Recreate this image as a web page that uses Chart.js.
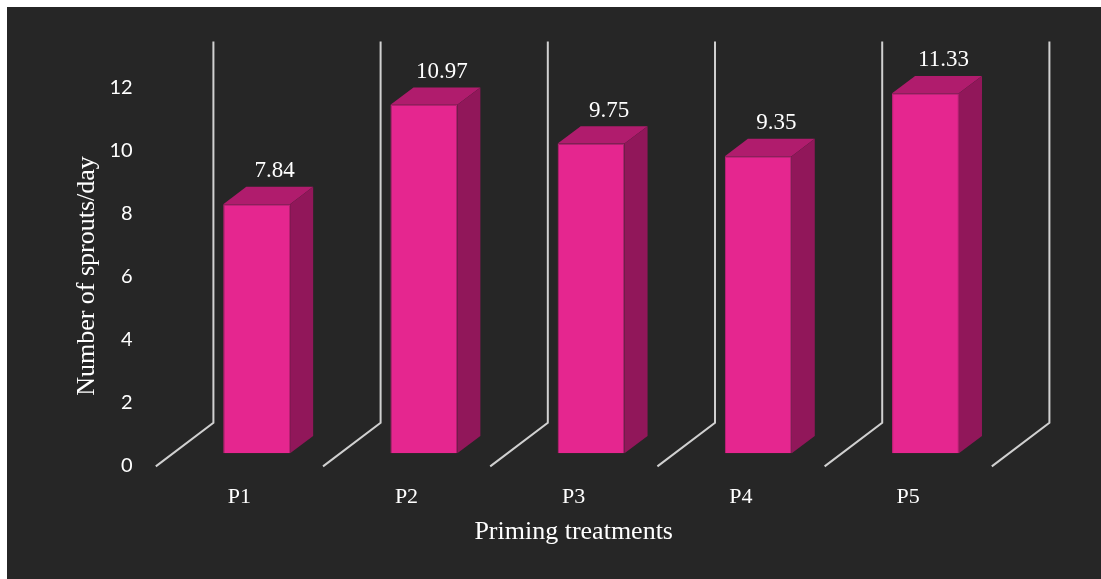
<!DOCTYPE html>
<html>
<head>
<meta charset="utf-8">
<title>Number of sprouts per day</title>
<script src="https://cdn.jsdelivr.net/npm/chart.js@4.4.1/dist/chart.umd.min.js"></script>
<style>
	html, body { margin: 0; padding: 0; background: #ffffff; }
	#frame { position: absolute; left: 7px; top: 7px; width: 1094px; height: 572px; background: #262626; }
</style>
</head>
<body>
<div id="frame"><canvas id="myChart" width="1094" height="572"></canvas></div>
<script>
"use strict";

const treatments = ["P1", "P2", "P3", "P4", "P5"];
const sproutsPerDay = [7.84, 10.97, 9.75, 9.35, 11.33];
const yTickValues = [0, 2, 4, 6, 8, 10, 12];

// oblique floor depth, and the slice of it the bars occupy
const DEPTH_X = 57.6;
const DEPTH_Y = 43.5;
const BAR_FRONT = 0.3;
const BAR_BACK = 0.7;

const FACE_FRONT = "#E5268F";
const FACE_TOP = "#B01C6D";
const FACE_SIDE = "#91175A";
const WALL_COLOR = "#D0D0D0";
const SERIF = "'Liberation Serif', 'Times New Roman', serif";

// back walls + floor edges behind the bars
const wallPlugin = {
	id: "walls",
	beforeDatasetsDraw(chart) {
		const xs = chart.scales.xb;
		const ys = chart.scales.yb;
		const ctx = chart.ctx;
		const y0 = ys.getPixelForValue(0);
		const yTop = ys.getPixelForValue(yTickValues[yTickValues.length - 1]);
		const backDx = (1 - BAR_FRONT) * DEPTH_X;
		const backDy = (1 - BAR_FRONT) * DEPTH_Y;

		ctx.save();
		ctx.strokeStyle = WALL_COLOR;
		ctx.lineWidth = 2;
		for (let i = 0; i <= treatments.length; i++) {
			const x = xs.getPixelForValue(i - 0.5);
			ctx.beginPath();
			ctx.moveTo(x - BAR_FRONT * DEPTH_X, y0 + BAR_FRONT * DEPTH_Y);
			ctx.lineTo(x + backDx, y0 - backDy);
			ctx.lineTo(x + backDx, yTop - backDy);
			ctx.stroke();
		}
		ctx.restore();
	},
};

// top and side faces of each box, then the value above it
const boxPlugin = {
	id: "boxes",
	afterDatasetsDraw(chart) {
		const ctx = chart.ctx;
		const meta = chart.getDatasetMeta(0);
		const dx = (BAR_BACK - BAR_FRONT) * DEPTH_X;
		const dy = (BAR_BACK - BAR_FRONT) * DEPTH_Y;

		ctx.save();
		meta.data.forEach(function (bar, i) {
			const { x, y, base, width } = bar.getProps(["x", "y", "base", "width"], true);
			const left = x - width / 2;
			const right = x + width / 2;

			ctx.fillStyle = FACE_TOP;
			ctx.beginPath();
			ctx.moveTo(left, y);
			ctx.lineTo(right, y);
			ctx.lineTo(right + dx, y - dy);
			ctx.lineTo(left + dx, y - dy);
			ctx.closePath();
			ctx.fill();

			ctx.fillStyle = FACE_SIDE;
			ctx.beginPath();
			ctx.moveTo(right, y);
			ctx.lineTo(right + dx, y - dy);
			ctx.lineTo(right + dx, base - dy);
			ctx.lineTo(right, base);
			ctx.closePath();
			ctx.fill();

			ctx.fillStyle = "#FFFFFF";
			ctx.font = "23px " + SERIF;
			ctx.textAlign = "center";
			ctx.textBaseline = "middle";
			ctx.fillText(sproutsPerDay[i].toFixed(2), x + 18, y - 33);
		});
		ctx.restore();
	},
};

function generateSproutsChart() {
	const ctx = document.getElementById("myChart");

	new Chart(ctx, {
		type: "bar",
		data: {
			labels: treatments,
			datasets: [
				{
					label: "Number of sprouts/day",
					data: sproutsPerDay.map(function (v, i) {
						return { x: i, y: v };
					}),
					xAxisID: "xb",
					yAxisID: "yb",
					backgroundColor: FACE_FRONT,
					borderColor: "#C81F7C",
					borderWidth: 1,
					barPercentage: 0.4,
					categoryPercentage: 1,
					clip: false,
				},
			],
		},
		options: {
			responsive: false,
			animation: false,
			events: [],
			layout: {
				padding: { left: 0, top: 79, right: 109.3, bottom: 0 },
			},
			plugins: {
				legend: { display: false },
				tooltip: { enabled: false },
			},
			scales: {
				x: {
					type: "category",
					offset: true,
					grid: { display: false },
					border: { display: false },
					ticks: {
						color: "#FFFFFF",
						font: { family: SERIF, size: 22 },
						padding: 10,
					},
					title: {
						display: true,
						text: "Priming treatments",
						color: "#FFFFFF",
						font: { family: SERIF, size: 26 },
						padding: { top: 0, bottom: 31 },
					},
					afterFit(scale) {
						scale.height = 113;
					},
				},
				y: {
					type: "linear",
					position: "left",
					bounds: "data",
					min: 0,
					max: 12.063,
					grid: { display: false, drawTicks: false },
					border: { display: false },
					ticks: {
						color: "#FFFFFF",
						font: { family: "Lato, 'Open Sans', sans-serif", size: 20 },
						padding: 23,
					},
					afterBuildTicks(scale) {
						scale.ticks = yTickValues.map(function (v) {
							return { value: v };
						});
					},
					title: {
						display: true,
						text: "Number of sprouts/day",
						color: "#FFFFFF",
						font: { family: SERIF, size: 26 },
						padding: { top: 65, bottom: 0 },
					},
					afterFit(scale) {
						scale.width = 148.7;
					},
				},
				xb: {
					type: "linear",
					display: false,
					offset: false,
					bounds: "data",
					min: -0.604,
					max: 4.396,
					afterBuildTicks(scale) {
						scale.ticks = treatments.map(function (t, i) {
							return { value: i };
						});
					},
				},
				yb: {
					type: "linear",
					display: false,
					bounds: "data",
					min: -0.3997,
					max: 11.561,
				},
			},
		},
		plugins: [wallPlugin, boxPlugin],
	});
}

generateSproutsChart();
</script>
</body>
</html>
